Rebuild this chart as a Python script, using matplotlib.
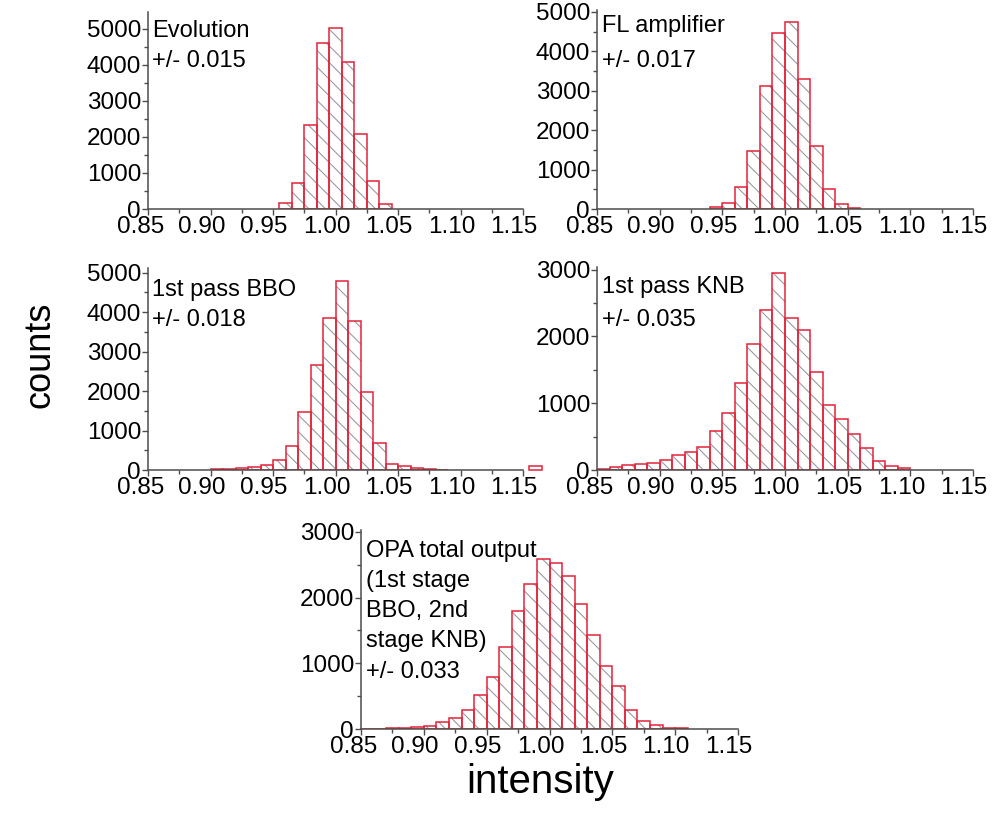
import numpy as np
import matplotlib
matplotlib.use("Agg")
import matplotlib.pyplot as plt
from matplotlib.ticker import MultipleLocator
from matplotlib.transforms import ScaledTranslation

plt.rcParams["font.family"] = ["Liberation Sans", "DejaVu Sans"]
plt.rcParams["hatch.linewidth"] = 0.8

# histogram bins are 0.01 wide; arrays hold the left bin edges and the counts
evo_edges = np.round(np.arange(0.955, 1.04, 0.01), 3)
evo_counts = [160, 730, 2330, 4610, 5020, 4090, 2090, 780, 130]

fl_edges = np.round(np.arange(0.94, 1.055, 0.01), 3)
fl_counts = [50, 150, 560, 1480, 3120, 4470, 4750, 3300, 1610, 510, 120, 25]

bbo_edges = np.round(np.arange(0.90, 1.085, 0.01), 3)
bbo_counts = [25, 30, 40, 65, 125, 250, 600, 1470, 2670, 3860, 4780,
              3770, 1980, 680, 150, 90, 40, 25, 5]
# single outlier bin just past the axis end
bbo_outlier_edge = [1.155]
bbo_outlier_count = [110]

knb_edges = np.round(np.arange(0.85, 1.095, 0.01), 3)
knb_counts = [20, 50, 70, 90, 105, 145, 230, 265, 345, 580, 860, 1310, 1890,
              2400, 2950, 2280, 2090, 1470, 980, 760, 540, 325, 140, 60, 25]

opa_edges = np.round(np.arange(0.85, 1.105, 0.01), 3)
opa_counts = [5, 5, 10, 15, 35, 40, 100, 160, 295, 520, 790, 1250, 1790,
              2210, 2590, 2530, 2335, 1900, 1430, 955, 650, 295, 127, 60, 20, 8]

x_ticks = [0.85, 0.90, 0.95, 1.00, 1.05, 1.10, 1.15]
x_ticklabels = ["0.85", "0.90", "0.95", "1.00", "1.05", "1.10", "1.15"]

red = "#e2233a"
hatch_gray = "#9d9aa6"
axis_gray = "#4d4d4d"

fig = plt.figure(figsize=(9.93, 8.26), dpi=100)
W, H = 993.0, 826.0


def px_axes(left, right, top, bottom):
    # axes placed from pixel edges
    return fig.add_axes([left / W, 1 - bottom / H, (right - left) / W, (bottom - top) / H])


def shift(label, dx, dy):
    label.set_transform(label.get_transform()
                        + ScaledTranslation(dx / 100, dy / 100, fig.dpi_scale_trans))


def hist_panel(ax, edges, counts, ymax, text, ty, ls):
    ax.bar(edges, counts, width=0.01, align="edge", facecolor="white",
           edgecolor=hatch_gray, hatch="\\\\", linewidth=0)
    ax.bar(edges, counts, width=0.01, align="edge", fill=False,
           edgecolor=red, linewidth=1.1)
    ax.set_xlim(0.85, 1.15)
    ax.set_ylim(0, ymax)
    ax.set_xticks(x_ticks)
    ax.set_xticklabels(x_ticklabels)
    ax.xaxis.set_minor_locator(MultipleLocator(0.025))
    ax.yaxis.set_major_locator(MultipleLocator(1000))
    ax.yaxis.set_minor_locator(MultipleLocator(500))
    for side in ["top", "right"]:
        ax.spines[side].set_visible(False)
    for side in ["left", "bottom"]:
        ax.spines[side].set_color(axis_gray)
        ax.spines[side].set_linewidth(1.1)
    ax.tick_params(which="both", direction="out", color=axis_gray, width=1.0,
                   labelsize=17.5, pad=1)
    ax.tick_params(which="major", length=4)
    ax.tick_params(which="minor", length=3)
    ax.text(0.012, ty, text, transform=ax.transAxes, ha="left", va="top",
            fontsize=17, linespacing=ls)
    for i, lab in enumerate(ax.get_xticklabels()):
        shift(lab, -7 if i == 0 else -9, 0)
    shift(ax.get_yticklabels()[0], 0, 5)


ax1 = px_axes(148, 523, 12, 209)
hist_panel(ax1, evo_edges, evo_counts, 5470, "Evolution\n+/- 0.015", 0.959, 1.49)

ax2 = px_axes(597, 973, 10, 209)
hist_panel(ax2, fl_edges, fl_counts, 5050, "FL amplifier\n+/- 0.017", 0.975, 1.75)

ax3 = px_axes(148, 523, 268, 470)
hist_panel(ax3, bbo_edges, bbo_counts, 5120, "1st pass BBO\n+/- 0.018", 0.946, 1.50)
ax3.bar(bbo_outlier_edge, bbo_outlier_count, width=0.01, align="edge",
        fill=False, edgecolor=red, linewidth=1.1, clip_on=False)

ax4 = px_axes(597, 973, 267, 470)
hist_panel(ax4, knb_edges, knb_counts, 3040, "1st pass KNB\n+/- 0.035", 0.956, 1.66)

ax5 = px_axes(361, 738, 530, 729)
hist_panel(ax5, opa_edges, opa_counts, 3030,
           "OPA total output\n(1st stage\nBBO, 2nd\nstage KNB)\n+/- 0.033", 0.950, 1.48)

fig.text(40 / W, 1 - 355 / H, "counts", rotation=90, ha="center", va="center",
         fontsize=26)
fig.text(540 / W, 1 - 782 / H, "intensity", ha="center", va="center", fontsize=29)

plt.savefig("out.png", dpi=100)
